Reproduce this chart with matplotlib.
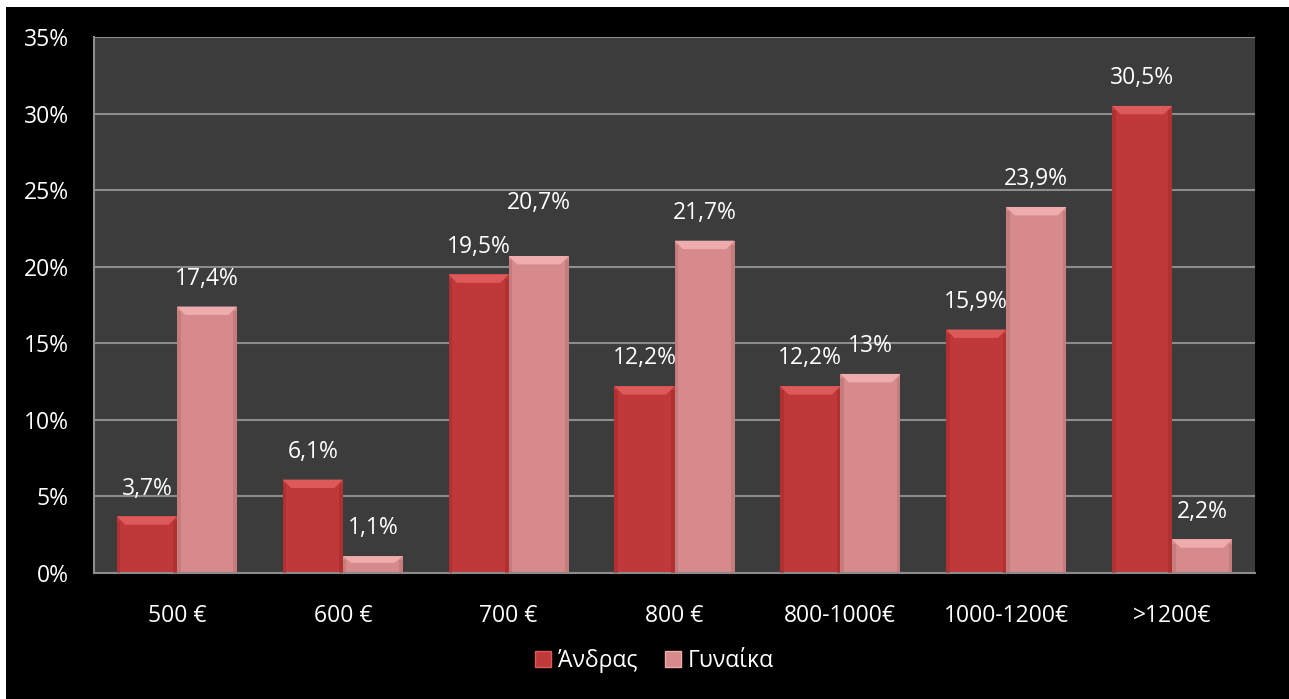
import numpy as np
import matplotlib.pyplot as plt
from matplotlib.patches import Polygon, Rectangle, Patch

plt.rcParams['font.family'] = ['Open Sans', 'DejaVu Sans']

# data (percent)
categories = ['500 €', '600 €', '700 €', '800 €', '800-1000€', '1000-1200€', '>1200€']
men = [3.7, 6.1, 19.5, 12.2, 12.2, 15.9, 30.5]
women = [17.4, 1.1, 20.7, 21.7, 13.0, 23.9, 2.2]
series_names = ['Άνδρας', 'Γυναίκα']

RED = '#c0383a'
RED_CAP = '#dc5a5a'
RED_SIDE = '#a82c2e'
PINK = '#d68a8b'
PINK_CAP = '#eeacac'
PINK_SIDE = '#b87475'


def fmt(v):
    return f"{v:g}".replace('.', ',') + '%'


def bevel(ax, bars, cap_color, side_color):
    # fake the Excel bevel: light top cap and darker side strips
    for b in bars:
        x0 = b.get_x()
        w = b.get_width()
        top = b.get_height()
        dx = w * 0.14
        dy = min(0.55, top * 0.4)
        sx = w * 0.06
        ax.add_patch(Polygon([(x0, top), (x0 + w, top), (x0 + w - dx, top - dy),
                              (x0 + dx, top - dy)], closed=True,
                             facecolor=cap_color, edgecolor='none', zorder=3))
        ax.add_patch(Rectangle((x0, 0), sx, top - dy * 0.5, facecolor=side_color,
                               edgecolor='none', alpha=0.6, zorder=3))
        ax.add_patch(Rectangle((x0 + w - sx, 0), sx, top - dy * 0.5, facecolor=side_color,
                               edgecolor='none', alpha=0.6, zorder=3))


fig = plt.figure(figsize=(12.89, 6.99), dpi=100, facecolor='white')
# black chart area with thin white margin at top and left
fig.patches.append(Rectangle((6 / 1289, 0), 1, (699 - 7) / 699, transform=fig.transFigure,
                             facecolor='black', edgecolor='none', zorder=-10))

ax = fig.add_axes([94 / 1289, 1 - 573 / 699, (1255 - 94) / 1289, (573 - 37) / 699])
ax.set_facecolor('#3c3c3c')

x = np.arange(len(categories))
w = 0.362
b1 = ax.bar(x - w / 2, men, width=w, color=RED, zorder=2)
b2 = ax.bar(x + w / 2, women, width=w, color=PINK, zorder=2)
bevel(ax, b1, RED_CAP, RED_SIDE)
bevel(ax, b2, PINK_CAP, PINK_SIDE)

# extra label lift where Excel moved labels apart (points)
lift_women = {2: 18}
for i, b in enumerate(b1):
    ax.annotate(fmt(men[i]), (b.get_x() + b.get_width() / 2, b.get_height()),
                xytext=(0, 20), textcoords='offset points', ha='center', va='center',
                color='white', fontsize=16.5, zorder=5)
for i, b in enumerate(b2):
    ax.annotate(fmt(women[i]), (b.get_x() + b.get_width() / 2, b.get_height()),
                xytext=(0, 20 + lift_women.get(i, 0)), textcoords='offset points',
                ha='center', va='center', color='white', fontsize=16.5, zorder=5)

ax.set_xlim(-0.5, len(categories) - 0.5)
ax.set_ylim(0, 35)
ax.set_yticks(np.arange(0, 36, 5))
ax.set_yticklabels([f"{t}%" for t in range(0, 36, 5)])
ax.set_xticks(x)
ax.set_xticklabels(categories)
ax.tick_params(axis='both', colors='white', labelsize=16.5, length=0)
ax.tick_params(axis='y', pad=18)
ax.tick_params(axis='x', pad=22)
ax.yaxis.grid(True, color='#8c8c8c', linewidth=1.5, zorder=1)
ax.set_axisbelow(True)
for s in ['top', 'right']:
    ax.spines[s].set_visible(False)
ax.spines['left'].set_color('#8c8c8c')
ax.spines['bottom'].set_color('#8c8c8c')
ax.spines['left'].set_linewidth(1.5)
ax.spines['bottom'].set_linewidth(1.5)

handles = [Patch(facecolor=RED, edgecolor=RED_CAP), Patch(facecolor=PINK, edgecolor=PINK_CAP)]
fig.legend(handles, series_names, loc='center', bbox_to_anchor=(0.508, 0.054), ncol=2,
           frameon=False, fontsize=16.5, labelcolor='white', handlelength=0.7,
           handleheight=0.7, handletextpad=0.3, columnspacing=1.2)

fig.savefig('out.png', dpi=100, facecolor=fig.get_facecolor())
